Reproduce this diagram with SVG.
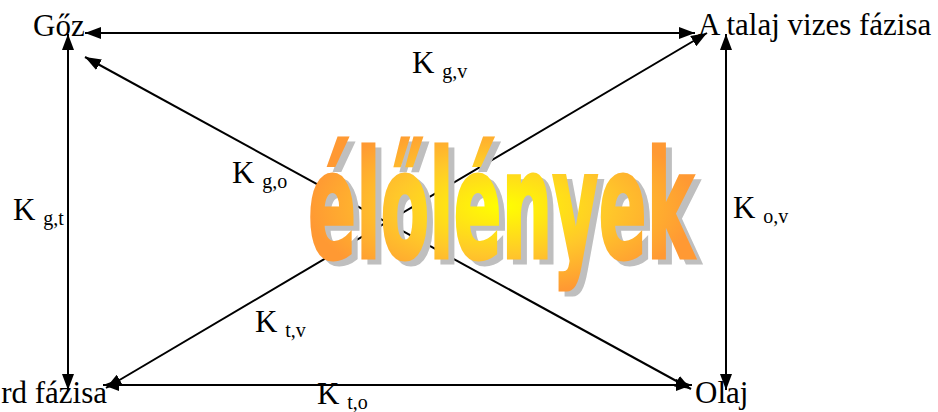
<svg xmlns="http://www.w3.org/2000/svg" width="938" height="412" viewBox="0 0 938 412">
<style>
.lbl{font-family:"Liberation Serif","Times New Roman",serif;font-size:31px;fill:#000}
.sub{font-size:20px}
.edge{stroke:#000;stroke-width:2;fill:none;marker-start:url(#ah);marker-end:url(#ah)}
.wa{font-family:"DejaVu Sans","Liberation Sans",sans-serif;font-weight:bold;font-size:71.4px}
</style>
<defs>
<marker id="ah" markerUnits="userSpaceOnUse" markerWidth="16" markerHeight="12" refX="16" refY="6" orient="auto-start-reverse" viewBox="0 0 16 12">
<path d="M0,0 L16,6 L0,12 z" fill="#000"/>
</marker>
<radialGradient id="wg" cx="0.5" cy="0.5" r="0.5">
<stop offset="0" stop-color="#ffff00"/>
<stop offset="0.55" stop-color="#ffc82a"/>
<stop offset="1" stop-color="#ff9933"/>
</radialGradient>
</defs>
<g id="connectors">
<line class="edge" x1="85" y1="33" x2="695" y2="33"/>
<line class="edge" x1="103" y1="385" x2="692" y2="385"/>
<line class="edge" x1="68" y1="34" x2="68" y2="390"/>
<line class="edge" x1="726" y1="34" x2="726" y2="390"/>
<line class="edge" x1="85" y1="57" x2="691" y2="389"/>
<line class="edge" x1="106" y1="388" x2="707" y2="33"/>
</g>
<g id="elolenyek">
<text class="wa" x="314" y="263" textLength="386" lengthAdjust="spacingAndGlyphs" transform="matrix(1,0,0,2.1,0,-289.3)" fill="#bfbfbf" stroke="#bfbfbf" stroke-width="2.5" vector-effect="non-scaling-stroke">élőlények</text>
<text class="wa" x="308" y="258" textLength="386" lengthAdjust="spacingAndGlyphs" transform="matrix(1,0,0,2.1,0,-283.8)" fill="url(#wg)" stroke="url(#wg)" stroke-width="2.5" vector-effect="non-scaling-stroke">élőlények</text>
</g>
<g id="goz"><text class="lbl" x="33" y="36">Gőz</text></g>
<g id="vizes"><text class="lbl" x="698" y="35">A talaj vizes fázisa</text></g>
<g id="szilard"><text class="lbl" x="107" y="403" text-anchor="end">rd fázisa</text></g>
<g id="olaj"><text class="lbl" x="695" y="403">Olaj</text></g>
<g id="labels">
<text class="lbl" x="412" y="73">K <tspan class="sub" dy="5">g,v</tspan></text>
<text class="lbl" x="232" y="183">K <tspan class="sub" dy="5">g,o</tspan></text>
<text class="lbl" x="13" y="220">K <tspan class="sub" dy="5">g,t</tspan></text>
<text class="lbl" x="733" y="218">K <tspan class="sub" dy="5">o,v</tspan></text>
<text class="lbl" x="255" y="332">K <tspan class="sub" dy="5">t,v</tspan></text>
<text class="lbl" x="317" y="404">K <tspan class="sub" dy="5">t,o</tspan></text>
</g>
</svg>
